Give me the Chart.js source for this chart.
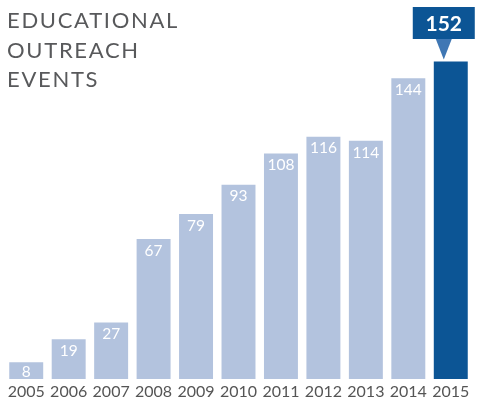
<!DOCTYPE html>
<html>
<head>
<meta charset="utf-8">
<script src="https://cdn.jsdelivr.net/npm/chart.js@4"></script>
<style>
  html, body { margin: 0; padding: 0; background: #fff; }
  #wrap { position: relative; width: 480px; height: 404px; }
  #title {
    position: absolute; left: 7px; top: 5px;
    font-family: Lato, sans-serif; font-size: 22px; line-height: 29.5px;
    color: #58595b; letter-spacing: 1.7px;
  }
</style>
</head>
<body>
<div id="wrap">
  <canvas id="chart" width="480" height="404"></canvas>
  <div id="title">EDUCATIONAL<br>OUTREACH<br>EVENTS</div>
</div>
<script>
// --- data ---
const years = ['2005', '2006', '2007', '2008', '2009', '2010', '2011', '2012', '2013', '2014', '2015'];
const events = [8, 19, 27, 67, 79, 93, 108, 116, 114, 144, 152];

const LIGHT = '#b3c3de';
const DARK = '#0c5595';
const POINTER = '#3f77b4';

// labels inside bars + callout over the last one
const labelPlugin = {
    id: 'barLabels',
    afterDatasetsDraw(chart) {
        const ctx = chart.ctx;
        const meta = chart.getDatasetMeta(0);
        const last = meta.data.length - 1;
        ctx.save();
        ctx.textAlign = 'center';
        meta.data.forEach((bar, i) => {
            const v = events[i];
            if (i === last) {
                // callout box
                const bx = bar.x - 7;
                const w = 62, h = 32, top = 7;
                ctx.fillStyle = DARK;
                ctx.fillRect(bx - w / 2, top, w, h);
                ctx.fillStyle = POINTER;
                ctx.beginPath();
                ctx.moveTo(bx - 8, top + h);
                ctx.lineTo(bx + 8, top + h);
                ctx.lineTo(bx, bar.y - 2);
                ctx.closePath();
                ctx.fill();
                ctx.fillStyle = '#fff';
                ctx.font = 'bold 21px Lato, sans-serif';
                ctx.textBaseline = 'middle';
                ctx.fillText(String(v), bx, top + h / 2 + 1);
                return;
            }
            ctx.fillStyle = '#fff';
            ctx.font = '15.5px Lato, sans-serif';
            ctx.textBaseline = 'top';
            const h = bar.base - bar.y;
            const y = h < 22 ? bar.y + (h - 12) / 2 : bar.y + 4;
            ctx.fillText(String(v), bar.x, y);
        });
        ctx.restore();
    }
};

new Chart(document.getElementById('chart'), {
    type: 'bar',
    data: {
        labels: years,
        datasets: [{
            data: events,
            backgroundColor: events.map((v, i) => i === events.length - 1 ? DARK : LIGHT),
            borderWidth: 0,
            barPercentage: 0.8,
            categoryPercentage: 1.0
        }]
    },
    options: {
        responsive: false,
        animation: false,
        layout: { padding: { left: 5, right: 8, top: 3, bottom: 3 } },
        plugins: { legend: { display: false }, tooltip: { enabled: false } },
        scales: {
            x: {
                grid: { display: false, drawTicks: false },
                border: { display: false },
                afterFit: s => { s.height = 22; },
                ticks: {
                    color: '#555',
                    font: { family: 'Lato, sans-serif', size: 16 },
                    padding: 3,
                    maxRotation: 0,
                    autoSkip: false
                }
            },
            y: {
                display: false,
                min: 0,
                max: 180
            }
        }
    },
    plugins: [labelPlugin]
});
</script>
</body>
</html>
